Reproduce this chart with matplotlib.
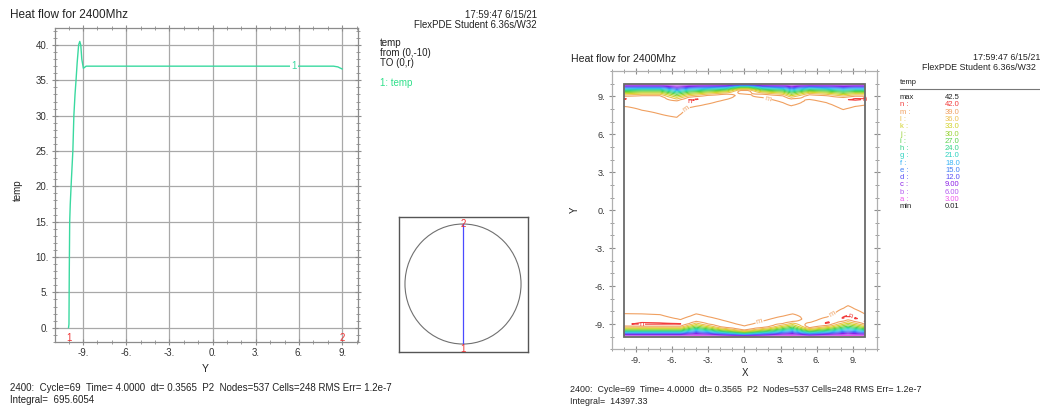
import numpy as np
import matplotlib
matplotlib.use("Agg")
import matplotlib.pyplot as plt
from matplotlib.patches import Circle, Rectangle
from matplotlib.ticker import MultipleLocator, FuncFormatter

plt.rcParams['font.family'] = ['Liberation Sans', 'DejaVu Sans']

# ---------------- data ----------------
title = "Heat flow for 2400Mhz"
stamp1 = "17:59:47 6/15/21"
stamp2 = "FlexPDE Student 6.36s/W32"
footer1 = "2400:  Cycle=69  Time= 4.0000  dt= 0.3565  P2  Nodes=537 Cells=248 RMS Err= 1.2e-7"
footer_left = "Integral=  695.6054"
footer_right = "Integral=  14397.33"

# elevation plot along x=0 (Y from -10 to r)
curve_y = [-10.0, -9.97, -9.95, -9.92, -9.88, -9.80, -9.70, -9.63, -9.55, -9.48,
           -9.40, -9.30, -9.22, -9.15, -9.08, -8.97, -8.78, 8.4, 8.7, 9.0]
curve_temp = [0.0, 0.5, 7.5, 15.0, 17.5, 21.0, 25.0, 30.0, 33.0, 35.0,
              37.5, 40.0, 40.5, 40.0, 38.0, 36.7, 37.0, 37.0, 36.9, 36.6]
curve_label_y = 5.66
cut_start = (0, -10)
domain_radius = 10.0
left_legend = ["temp", "from (0,-10)", "TO (0,r)"]

# contour levels
level_names = ['a', 'b', 'c', 'd', 'e', 'f', 'g', 'h', 'i', 'j', 'k', 'l', 'm', 'n']
level_values = [3.0, 6.0, 9.0, 12.0, 15.0, 18.0, 21.0, 24.0, 27.0, 30.0, 33.0, 36.0, 39.0, 42.0]
level_text = ['3.00', '6.00', '9.00', '12.0', '15.0', '18.0', '21.0', '24.0', '27.0',
              '30.0', '33.0', '36.0', '39.0', '42.0']
level_colors = ['#ee55ee', '#b45cf0', '#8a1ee6', '#5a50f5', '#3f7ff5', '#38b4f5',
                '#2fd2c0', '#35d48a', '#5ad24a', '#98d236', '#d2d22a', '#ecc050',
                '#f0a060', '#f23c3c']
temp_max, temp_min = "42.5", "0.01"

# wall boundary layer readings (distance from wall d, along X)
interior_temp = 37.0
rise_u = [0, 0.1, 0.3, 0.5, 0.7, 0.85, 1.0]
rise_f = [0, 0.12, 0.38, 0.62, 0.82, 0.94, 1.0]
decay_v = [0.0, 0.3, 0.6, 1.0, 1.5, 2.0, 50.0]
decay_D = [1.0, 0.9, 0.65, 0.35, 0.1, 0.0, 0.0]

top_x = [-10, -8.5, -7, -5.6, -4.6, -3, -1.5, -0.3, 0.3, 1.5, 3.2, 3.9, 5.4, 6.8, 8.2, 9.2, 10]
top_a = [1.2, 1.1, 1.1, 1.6, 1.3, 1.1, 0.95, 0.6, 0.6, 0.95, 1.1, 1.4, 1.0, 1.1, 1.3, 1.2, 1.2]
top_pk = [42.15, 41.2, 41.2, 41.5, 42.3, 41.8, 41.0, 40.6, 40.6, 41.0, 41.0, 41.2, 41.0, 41.2, 41.8, 42.3, 42.15]
top_dm = [1.8, 2.1, 2.4, 2.66, 1.9, 1.6, 1.25, 0.8, 0.85, 1.1, 1.5, 1.75, 1.25, 1.5, 2.05, 1.8, 1.7]

bot_x = [-10, -8.5, -7, -5.3, -4, -2, 0, 2, 4, 5.4, 7, 8.6, 10]
bot_a = [1.0, 1.0, 1.0, 1.0, 1.4, 0.9, 0.6, 0.9, 1.4, 0.85, 1.1, 1.6, 1.2]
bot_pk = [41.8, 42.25, 42.2, 42.15, 41.2, 41.0, 40.8, 41.0, 41.3, 41.9, 42.25, 42.2, 42.2]
bot_dm = [1.82, 1.8, 1.74, 1.35, 1.8, 1.35, 0.85, 1.35, 1.8, 1.12, 1.6, 2.45, 1.8]

# ---------------- layout helpers ----------------
W, H = 1040, 407
fig = plt.figure(figsize=(W / 100, H / 100), dpi=100)
fig.patch.set_facecolor('white')


def rect(x0, y0, x1, y1):
    return [x0 / W, 1 - y1 / H, (x1 - x0) / W, (y1 - y0) / H]


def ftext(x, y, s, **kw):
    kw.setdefault('va', 'center')
    kw.setdefault('ha', 'left')
    kw.setdefault('color', '#222222')
    fig.text(x / W, 1 - y / H, s, **kw)


dotfmt = FuncFormatter(lambda v, p: f"{v:g}.")
TXT = '#333333'
SPINE = '#8c8c8c'


def style_axes(ax, maj, minor, size=7):
    ax.xaxis.set_major_locator(MultipleLocator(maj[0]))
    ax.yaxis.set_major_locator(MultipleLocator(maj[1]))
    ax.xaxis.set_minor_locator(MultipleLocator(minor[0]))
    ax.yaxis.set_minor_locator(MultipleLocator(minor[1]))
    ax.xaxis.set_major_formatter(dotfmt)
    ax.yaxis.set_major_formatter(dotfmt)
    ax.tick_params(which='both', direction='inout', top=True, right=True,
                   colors=SPINE, labelcolor=TXT, labelsize=size, pad=2)
    ax.tick_params(which='major', length=5, width=0.8)
    ax.tick_params(which='minor', length=3, width=0.6)
    for s in ax.spines.values():
        s.set_color(SPINE)
        s.set_linewidth(0.9)


# ---------------- left: elevation plot ----------------
ax1 = fig.add_axes(rect(55, 28, 358, 342))
ax1.set_xlim(-10.94, 10.1)
ax1.set_ylim(-2.02, 42.4)
style_axes(ax1, (3, 5), (1, 1))
ax1.grid(True, which='major', color='#a8a8a8', linewidth=0.9)
ax1.set_axisbelow(True)
green = '#3ad9a0'
ax1.plot(curve_y, curve_temp, color=green, linewidth=1.0)
lab_t = float(np.interp(curve_label_y, curve_y, curve_temp))
ax1.text(curve_label_y, lab_t, "1", color=green, fontsize=7, ha='center', va='center',
         bbox=dict(facecolor='white', edgecolor='none', pad=0.6))
ax1.text(curve_y[0], -1.45, "1", color='#ee3333', fontsize=7, ha='center', va='center')
ax1.text(curve_y[-1], -1.45, "2", color='#ee3333', fontsize=7, ha='center', va='center')

ftext(10, 15, title, fontsize=8.5)
ftext(537, 15, stamp1, fontsize=6.9, ha='right')
ftext(537, 25, stamp2, fontsize=6.9, ha='right')
ftext(18, 190, "temp", fontsize=7, rotation=90, ha='center')
ftext(205, 369, "Y", fontsize=7.5, ha='center')
for i, s in enumerate(left_legend):
    ftext(380, 43.5 + 10 * i, s, fontsize=7)
ftext(380, 83.5, "1: temp", fontsize=7, color='#2fe08a')
ftext(10, 388, footer1, fontsize=7.0)
ftext(10, 400, footer_left, fontsize=7.0)

# ---------------- inset: domain with cut line ----------------
ax3 = fig.add_axes(rect(399, 217, 528, 352))
ax3.set_xlim(-11.03, 11.2)
ax3.set_ylim(-11.33, 11.17)
ax3.set_xticks([])
ax3.set_yticks([])
for s in ax3.spines.values():
    s.set_color('#555555')
    s.set_linewidth(1.0)
ax3.add_patch(Circle((0, 0), domain_radius, fill=False, edgecolor='#707070', linewidth=0.8))
ax3.plot([cut_start[0], cut_start[0]], [cut_start[1], domain_radius], color='#4a4aff', linewidth=0.9)
ax3.text(0, domain_radius, "2", color='#ee3333', fontsize=7, ha='center', va='center')
ax3.text(0, -domain_radius - 0.9, "1", color='#ee3333', fontsize=7, ha='center', va='center',
         clip_on=False)

# ---------------- right: contour plot ----------------
ax2 = fig.add_axes(rect(611.7, 71, 877, 349.3))
ax2.set_xlim(-11, 11)
ax2.set_ylim(-11, 11)
style_axes(ax2, (3, 3), (1, 1), size=6.6)
for s in ax2.spines.values():
    s.set_color('#b0b0b0')

xs = np.unique(np.array(top_x + bot_x, dtype=float))
ys = np.linspace(-10, 10, 1601)


def column(d, a, pk, dm):
    T = np.empty_like(d)
    rise = d <= a
    T[rise] = pk * np.interp(d[rise] / a, rise_u, rise_f)
    d_star = (level_values[12] - interior_temp) / (pk - interior_temp)
    v_star = np.interp(d_star, decay_D[::-1], decay_v[::-1])
    w = (dm - a) / v_star
    T[~rise] = interior_temp + (pk - interior_temp) * np.interp((d[~rise] - a) / w, decay_v, decay_D)
    return T


Z = np.empty((ys.size, xs.size))
for i, xv in enumerate(xs):
    ta, tp, td = (np.interp(xv, top_x, v) for v in (top_a, top_pk, top_dm))
    ba, bp, bd = (np.interp(xv, bot_x, v) for v in (bot_a, bot_pk, bot_dm))
    top_col = column(10 - ys, ta, tp, td)
    bot_col = column(ys + 10, ba, bp, bd)
    Z[:, i] = np.where(ys >= 0, top_col, bot_col)

cs = ax2.contour(xs, ys, Z, levels=level_values, colors=level_colors, linewidths=0.8)
ax2.clabel(cs, levels=[level_values[12], level_values[13]],
           fmt={level_values[12]: 'm', level_values[13]: 'n'}, fontsize=5.5, inline=True,
           inline_spacing=1)
ax2.add_patch(Rectangle((-10, -10), 20, 20, fill=False, edgecolor='#6a6a6a', linewidth=1.3, zorder=5))

ftext(571, 59, title, fontsize=7.6)
ftext(1040, 58, stamp1, fontsize=6.4, ha='right')
ftext(1036, 67, stamp2, fontsize=6.4, ha='right')
ftext(575, 210, "Y", fontsize=7, rotation=90, ha='center')
ftext(745, 373, "X", fontsize=7, ha='center')
ftext(570, 389, footer1, fontsize=6.4)
ftext(570, 401, footer_right, fontsize=6.4)

# legend table
ftext(900, 83, "temp", fontsize=5.5)
fig.add_artist(plt.Line2D([900 / W, 1040 / W], [1 - 88.5 / H, 1 - 88.5 / H],
                          color='#777777', linewidth=0.8))
rows = [("max", temp_max, '#222222')]
for nm, tx, c in zip(level_names[::-1], level_text[::-1], level_colors[::-1]):
    rows.append((nm + " :", tx, c))
rows.append(("min", temp_min, '#222222'))
for k, (nm, tx, c) in enumerate(rows):
    yy = 97.7 + k * 7.27
    ftext(900, yy, nm, fontsize=5.5, color=c)
    ftext(945, yy, tx, fontsize=5.5, color=c)

fig.savefig("out.png", dpi=100, facecolor='white')
